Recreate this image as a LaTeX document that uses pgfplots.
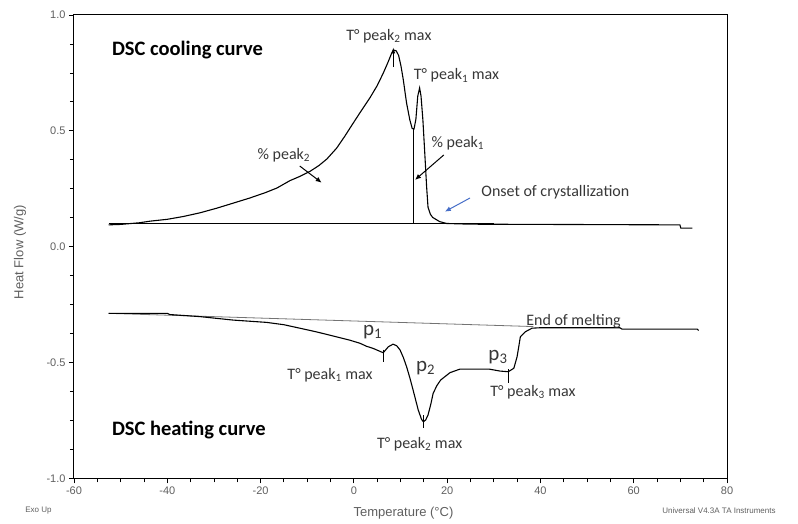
\documentclass[border=0pt]{standalone}
\usepackage{pgfplots}
\pgfplotsset{compat=1.18}
\usepackage{fontspec}
\setmainfont{Liberation Sans}
\newfontfamily\calfont{Carlito}
\usetikzlibrary{arrows.meta}

\definecolor{annot}{RGB}{55,55,55}
\definecolor{ticktxt}{RGB}{95,95,95}
\definecolor{onsetblue}{RGB}{70,110,200}

% Cooling scan (exo up)
\pgfplotstableread{
T V
-52.6 0.094
-50.0 0.096
-46.0 0.103
-43.7 0.110
-40.0 0.118
-36.6 0.130
-33.0 0.146
-29.4 0.166
-26.0 0.187
-22.3 0.210
-19.0 0.233
-16.5 0.253
-13.7 0.285
-11.6 0.303
-9.4 0.325
-7.5 0.350
-5.8 0.378
-3.7 0.425
-2.0 0.475
-0.15 0.533
1.6 0.587
3.4 0.641
5.0 0.695
6.3 0.749
7.3 0.795
8.1 0.835
8.5 0.849
9.1 0.845
9.6 0.825
10.1 0.780
10.6 0.720
11.3 0.620
12.0 0.547
12.5 0.510
12.9 0.508
13.3 0.550
13.7 0.650
14.1 0.685
14.4 0.650
14.8 0.547
15.2 0.405
15.6 0.258
15.9 0.170
16.4 0.140
16.9 0.126
18.4 0.108
19.9 0.100
25.0 0.097
40.0 0.096
55.0 0.095
69.9 0.094
70.1 0.080
72.6 0.080
}\cooling

% Heating scan
\pgfplotstableread{
T V
-52.6 -0.288
-40.0 -0.288
-39.5 -0.293
-33.0 -0.302
-25.9 -0.317
-18.7 -0.327
-15.0 -0.337
-11.6 -0.352
-8.0 -0.368
-4.4 -0.386
-1.0 -0.403
1.3 -0.417
2.7 -0.430
4.1 -0.439
6.3 -0.458
7.4 -0.432
8.4 -0.421
9.2 -0.428
9.9 -0.446
10.6 -0.478
11.3 -0.518
12.0 -0.566
12.7 -0.619
13.8 -0.705
14.5 -0.745
14.9 -0.756
15.4 -0.748
15.9 -0.727
16.5 -0.680
17.0 -0.633
17.8 -0.600
18.6 -0.576
20.6 -0.544
22.7 -0.529
29.1 -0.529
31.3 -0.537
33.1 -0.540
34.3 -0.525
35.0 -0.475
35.7 -0.389
36.8 -0.367
38.2 -0.352
40.0 -0.350
57.0 -0.350
57.5 -0.356
73.6 -0.356
73.9 -0.362
}\heating

\begin{document}
\begin{tikzpicture}
\path[use as bounding box] (-74pt,-45.7pt) rectangle (724pt,478.3pt);
\begin{axis}[
  at={(0,0)}, anchor=south west,
  width=653pt, height=463.3pt, scale only axis,
  xmin=-60, xmax=80, ymin=-1, ymax=1,
  xtick={-60,-40,...,80}, minor x tick num=3,
  ytick={-1,-0.5,0,0.5,1}, minor y tick num=3,
  tick pos=left, tick align=outside,
  major tick length=5pt, minor tick length=4pt,
  every tick/.style={black, line width=0.8pt},
  axis line style={line width=1pt},
  /pgf/number format/assume math mode=true,
  yticklabel style={/pgf/number format/.cd, fixed, fixed zerofill, precision=1},
  tick label style={font=\fontsize{11}{11}\selectfont, text=ticktxt},
  xlabel={Temperature (°C)},
  ylabel={Heat Flow (W/g)},
  label style={font=\fontsize{13}{13}\selectfont, text=ticktxt},
  xlabel style={at={(rel axis cs:0.5,0)}, anchor=center, yshift=-35pt, xshift=3pt},
  ylabel style={at={(rel axis cs:0,0.5)}, anchor=center, rotate=0, yshift=54pt, xshift=-5.5pt},
  clip=false,
]
% baselines
\addplot[black, line width=0.9pt] coordinates {(-52.6,0.100) (30,0.100)};
\addplot[black!55, line width=0.8pt] coordinates {(-52.6,-0.288) (38.5,-0.345)};
% partition line between the two crystallization peaks
\addplot[black, line width=1pt] coordinates {(12.7,0.508) (12.7,0.100)};
% curves
\addplot[black, line width=1.1pt] table[x=T, y=V] {\cooling};
\addplot[black, line width=1.1pt] table[x=T, y=V] {\heating};

% peak markers on the heating curve
\draw[black, line width=0.7pt] (axis cs:6.3,-0.445) -- (axis cs:6.3,-0.500);
\draw[black, line width=0.7pt] (axis cs:14.9,-0.727) -- (axis cs:14.9,-0.784);
\draw[black, line width=0.7pt] (axis cs:33.1,-0.530) -- (axis cs:33.1,-0.590);

% arrows on the cooling curve
\draw[black, line width=0.8pt, -{Latex[length=6pt,width=4pt]}] (axis cs:8.45,0.775) -- (axis cs:8.45,0.860);
\draw[black, line width=1pt, -{Latex[length=6pt,width=5pt]}] (axis cs:-11.6,0.348) -- (axis cs:-6.9,0.276);
\draw[black, line width=1pt, -{Latex[length=6pt,width=5pt]}] (axis cs:19.3,0.396) -- (axis cs:13.1,0.288);
\draw[onsetblue, line width=1pt, -{Latex[length=6pt,width=5pt]}] (axis cs:24.9,0.210) -- (axis cs:19.5,0.151);

% labels
\node[anchor=west, font=\calfont\bfseries\fontsize{20.5}{24}\selectfont] at (axis cs:-52.6,0.849) {DSC cooling curve};
\node[anchor=west, font=\calfont\bfseries\fontsize{20.5}{24}\selectfont] at (axis cs:-52.6,-0.791) {DSC heating curve};

\begin{scope}[every node/.style={font=\calfont\fontsize{16}{19}\selectfont, text=annot}]
\node at (axis cs:7.5,0.91) {T° peak\textsubscript{2} max};
\node at (axis cs:22,0.74) {T° peak\textsubscript{1} max};
\node at (axis cs:22.3,0.447) {\% peak\textsubscript{1}};
\node at (axis cs:-15,0.396) {\% peak\textsubscript{2}};
\node[anchor=west] at (axis cs:26.6,0.236) {Onset of crystallization};
\node at (axis cs:-5.1,-0.554) {T° peak\textsubscript{1} max};
\node at (axis cs:14.1,-0.852) {T° peak\textsubscript{2} max};
\node at (axis cs:38.4,-0.628) {T° peak\textsubscript{3} max};
\node at (axis cs:47.1,-0.321) {End of melting};
\end{scope}

\begin{scope}[every node/.style={font=\calfont\fontsize{21}{24}\selectfont, text=annot}]
\node at (axis cs:4.0,-0.370) {p\textsubscript{1}};
\node at (axis cs:15.4,-0.525) {p\textsubscript{2}};
\node at (axis cs:30.9,-0.475) {p\textsubscript{3}};
\end{scope}
\end{axis}

\node[font=\fontsize{8}{8}\selectfont, text=ticktxt] at (-35.5pt,-32.7pt) {Exo Up};
\node[font=\fontsize{8}{8}\selectfont, text=ticktxt] at (645pt,-32.7pt) {Universal V4.3A TA Instruments};
\end{tikzpicture}
\end{document}
